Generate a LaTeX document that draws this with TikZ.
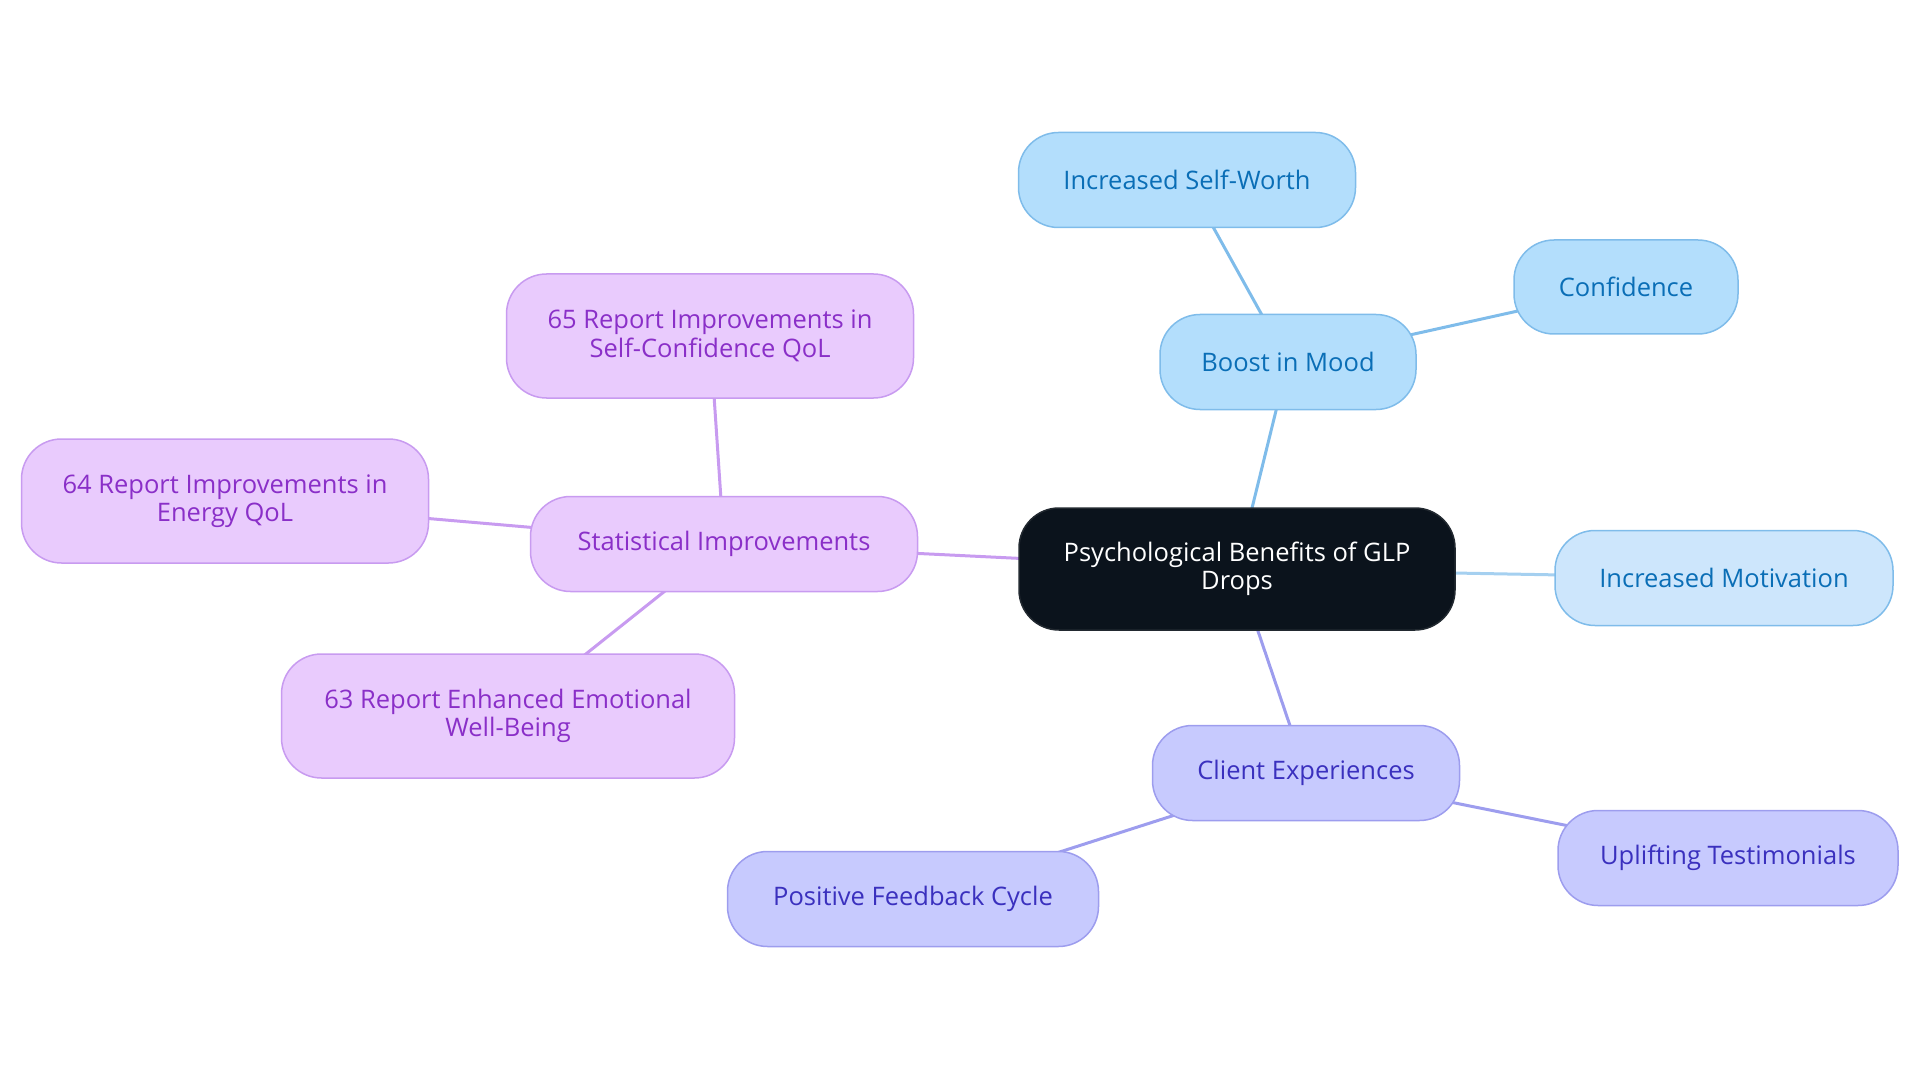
\documentclass[tikz,border=0pt]{standalone}
\usepackage{fontspec}
\setmainfont{Open Sans}
\usetikzlibrary{backgrounds}
\definecolor{bfill}{HTML}{B3DEFC}
\definecolor{bfill2}{HTML}{CDE6FC}
\definecolor{bdraw}{HTML}{7FBCEA}
\definecolor{btext}{HTML}{0A6EB6}
\definecolor{pfill}{HTML}{E9CBFD}
\definecolor{pdraw}{HTML}{C89BF0}
\definecolor{ptext}{HTML}{8A2FC8}
\definecolor{ifill}{HTML}{C7CAFE}
\definecolor{idraw}{HTML}{9D9DEE}
\definecolor{itext}{HTML}{3A30BE}
\definecolor{cfill}{HTML}{0B131C}
\tikzset{
  base/.style={rounded corners=40pt, line width=1.5pt, align=center, inner sep=0pt,
    font=\fontsize{25.5}{28.5}\selectfont},
  bnode/.style={base, fill=bfill, draw=bdraw, text=btext},
  bnode2/.style={base, fill=bfill2, draw=bdraw, text=btext},
  pnode/.style={base, fill=pfill, draw=pdraw, text=ptext},
  inode/.style={base, fill=ifill, draw=idraw, text=itext},
  cnode/.style={base, fill=cfill, draw=cfill!80!gray, text=white},
  bedge/.style={draw=bdraw, line width=3pt},
  bedge2/.style={draw=bdraw!70!white, line width=3pt},
  pedge/.style={draw=pdraw, line width=3pt},
  iedge/.style={draw=idraw, line width=3pt},
}
\begin{document}
\begin{tikzpicture}[x=1pt,y=-1pt]
\useasboundingbox (0,0) rectangle (1920,1083);
\node[cnode, minimum width=436pt, minimum height=122pt] (c) at (1237,569) {Psychological Benefits of GLP\\Drops};
\node[bnode, minimum width=337pt, minimum height=95pt] (sw) at (1187,180) {Increased Self-Worth};
\node[bnode, minimum width=224pt, minimum height=94pt] (conf) at (1626,287) {Confidence};
\node[bnode, minimum width=256pt, minimum height=95pt] (mood) at (1288,362) {Boost in Mood};
\node[bnode2, minimum width=338pt, minimum height=95pt] (mot) at (1724,578) {Increased Motivation};
\node[inode, minimum width=307pt, minimum height=95pt] (ce) at (1306,773) {Client Experiences};
\node[inode, minimum width=340pt, minimum height=95pt] (ut) at (1728,858) {Uplifting Testimonials};
\node[inode, minimum width=371pt, minimum height=95pt] (pf) at (913,899) {Positive Feedback Cycle};
\node[pnode, minimum width=387pt, minimum height=95pt] (si) at (724,544) {Statistical Improvements};
\node[pnode, minimum width=407pt, minimum height=124pt] (r65) at (710,336) {65 Report Improvements in\\Self-Confidence QoL};
\node[pnode, minimum width=407pt, minimum height=124pt] (r64) at (225,501) {64 Report Improvements in\\Energy QoL};
\node[pnode, minimum width=453pt, minimum height=124pt] (r63) at (508,716) {63 Report Enhanced Emotional\\Well-Being};
\begin{scope}[on background layer]
\draw[bedge] (c.center) -- (mood.center);
\draw[bedge] (mood.center) -- (sw.center);
\draw[bedge] (mood.center) -- (conf.center);
\draw[bedge2] (c.center) -- (mot.center);
\draw[iedge] (c.center) -- (ce.center);
\draw[iedge] (ce.center) -- (ut.center);
\draw[iedge] (ce.center) -- (pf.center);
\draw[pedge] (c.center) -- (si.center);
\draw[pedge] (si.center) -- (r65.center);
\draw[pedge] (si.center) -- (r64.center);
\draw[pedge] (si.center) -- (r63.center);
\end{scope}
\end{tikzpicture}
\end{document}
